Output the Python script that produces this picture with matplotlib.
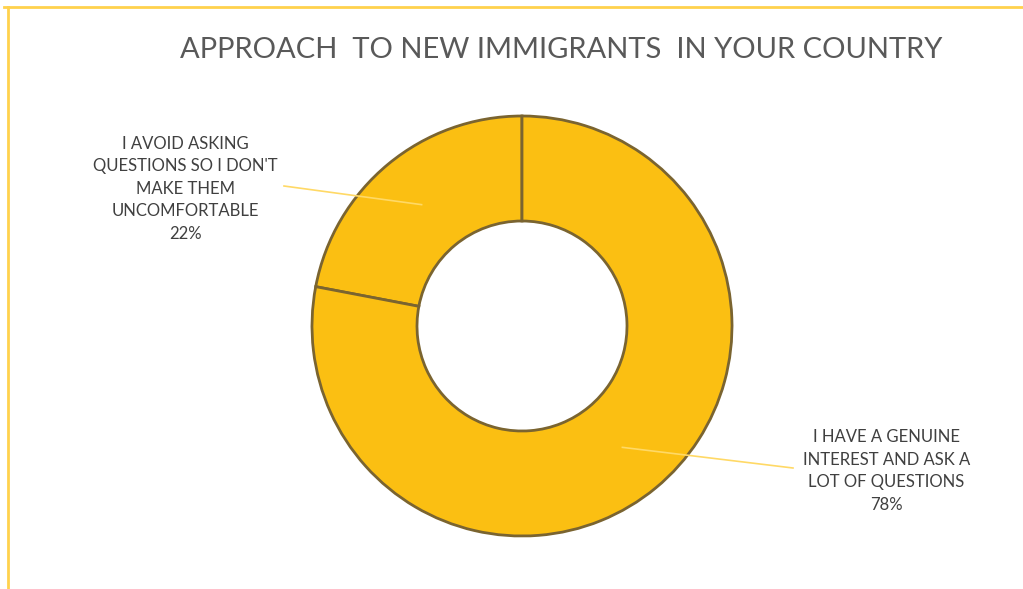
import numpy as np
import matplotlib
matplotlib.use('Agg')
import matplotlib.pyplot as plt
from matplotlib.lines import Line2D

title = 'APPROACH  TO NEW IMMIGRANTS  IN YOUR COUNTRY'
labels = ['I AVOID ASKING\nQUESTIONS SO I DON\'T\nMAKE THEM\nUNCOMFORTABLE',
          'I HAVE A GENUINE\nINTEREST AND ASK A\nLOT OF QUESTIONS']
shares = [22, 78]

FILL = '#FBBF12'
EDGE = '#7A6430'
LEADER = '#FFD966'
TEXT = '#404040'

W, H = 1023, 589
R = 210.0            # outer radius in pixels
cx, cy = 522, 589 - 326

fig = plt.figure(figsize=(W / 100, H / 100), dpi=100)
ax = fig.add_axes([0, 0, 1, 1])

wedges, _ = ax.pie(shares, startangle=90, counterclock=True, radius=1.0,
                   colors=[FILL, FILL],
                   wedgeprops=dict(width=0.5, edgecolor=EDGE, linewidth=2))
ax.set_xlim(-cx / R, (W - cx) / R)
ax.set_ylim(-cy / R, (H - cy) / R)
ax.set_aspect('auto')
ax.axis('off')

# leader lines and labels placed from each wedge's mid-angle
ends = [(-238, 140), (271, -142)]
for w, lab, val, (ex, ey) in zip(wedges, labels, shares, ends):
    mid = np.deg2rad((w.theta1 + w.theta2) / 2)
    x0, y0 = 0.75 * np.cos(mid), 0.75 * np.sin(mid)
    x1, y1 = ex / R, ey / R
    ax.plot([x0, x1], [y0, y1], color=LEADER, lw=1.2, zorder=5)
    side = 'right' if x1 < 0 else 'left'
    dx = -6 / R if x1 < 0 else 10 / R
    ax.text(x1 + dx, y1 - 3 / R, f'{lab}\n{val}%', ha=side, va='center',
            multialignment='center', fontsize=12, color=TEXT,
            family='Lato', linespacing=1.5, zorder=6)

fig.text(561 / W, 1 - 50 / H, title, ha='center', va='center',
         fontsize=21, color='#595959', family='Lato')

# chart frame (top and left edges)
fig.add_artist(Line2D([4 / W, 1], [1 - 6.5 / H] * 2, color='#FFD24D', lw=2,
                      transform=fig.transFigure))
fig.add_artist(Line2D([7.5 / W] * 2, [0, 1 - 6.5 / H], color='#FFD24D', lw=2,
                      transform=fig.transFigure))

fig.savefig('out.png', dpi=100, facecolor='white')
